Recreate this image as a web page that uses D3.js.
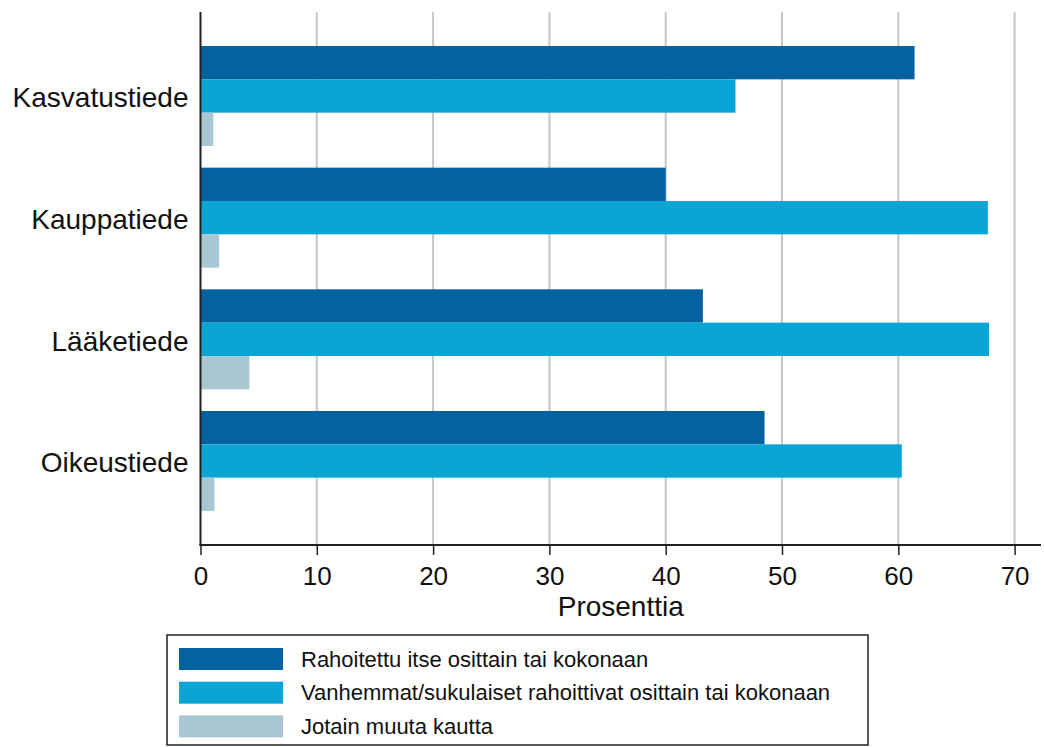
<!DOCTYPE html>
<html>
<head>
<meta charset="utf-8">
<script src="https://cdn.jsdelivr.net/npm/d3@7"></script>
<style>
  html, body { margin: 0; padding: 0; background: #fff; }
  text { font-family: "Liberation Sans", Arial, sans-serif; fill: #111; }
</style>
</head>
<body>
<svg id="chart" width="1044" height="747"></svg>
<script>
const categories = ["Kasvatustiede", "Kauppatiede", "Lääketiede", "Oikeustiede"];
const seriesNames = [
  "Rahoitettu itse osittain tai kokonaan",
  "Vanhemmat/sukulaiset rahoittivat osittain tai kokonaan",
  "Jotain muuta kautta"
];
const selfFunded = [61.4, 40.0, 43.2, 48.5];
const parentsFunded = [46.0, 67.7, 67.8, 60.3];
const otherWay = [1.1, 1.6, 4.2, 1.2];
const xTicks = [0, 10, 20, 30, 40, 50, 60, 70];
const xLabel = "Prosenttia";
const colors = ["#0462a1", "#0aa5d4", "#a7c7d2"];

const seriesValues = [selfFunded, parentsFunded, otherWay];

const svg = d3.select("#chart");
const plotLeft = 200.5, plotRight = 1041, plotTop = 12, plotBottom = 545;

const x = d3.scaleLinear().domain([0, 70]).range([plotLeft, plotLeft + 70 * 11.63]);
const y = d3.scaleBand().domain(categories).range([plotTop, plotBottom])
  .paddingInner(0.178).paddingOuter(0.2795);
const ySub = d3.scaleBand().domain(d3.range(seriesNames.length)).range([0, y.bandwidth()]);

// gridlines
svg.append("g").selectAll("line").data(xTicks.filter(d => d > 0)).join("line")
  .attr("x1", d => x(d)).attr("x2", d => x(d))
  .attr("y1", plotTop).attr("y2", plotBottom)
  .attr("stroke", "#c6c6c6").attr("stroke-width", 2);

// bars
const groups = svg.append("g").selectAll("g").data(categories).join("g")
  .attr("transform", c => `translate(0,${y(c)})`);
groups.selectAll("rect").data((c, i) => seriesValues.map((s, k) => ({k, v: s[i]}))).join("rect")
  .attr("x", x(0))
  .attr("y", d => ySub(d.k))
  .attr("width", d => x(d.v) - x(0))
  .attr("height", ySub.bandwidth())
  .attr("fill", d => colors[d.k]);

// x axis
const xAxis = d3.axisBottom(x).tickValues(xTicks).tickSize(10).tickPadding(12).tickSizeOuter(0);
const gx = svg.append("g").attr("transform", `translate(0,${plotBottom})`).call(xAxis);
gx.select(".domain").remove();
gx.selectAll(".tick line").attr("stroke", "#222").attr("stroke-width", 1.5);
gx.selectAll(".tick text").attr("font-size", 26).attr("font-family", "Liberation Sans, Arial, sans-serif").attr("fill", "#111");
svg.append("line").attr("x1", plotLeft - 1).attr("x2", plotRight).attr("y1", plotBottom).attr("y2", plotBottom)
  .attr("stroke", "#222").attr("stroke-width", 2);

// y axis
const yAxis = d3.axisLeft(y).tickSize(0).tickPadding(12);
const gy = svg.append("g").attr("transform", `translate(${plotLeft},0)`).call(yAxis);
gy.select(".domain").remove();
gy.selectAll(".tick text").attr("font-size", 28).attr("dy", "0.4em")
  .attr("font-family", "Liberation Sans, Arial, sans-serif").attr("fill", "#111");
svg.append("line").attr("x1", plotLeft).attr("x2", plotLeft).attr("y1", plotTop).attr("y2", plotBottom + 1)
  .attr("stroke", "#222").attr("stroke-width", 2);

// x label
svg.append("text").attr("x", (plotLeft + plotRight) / 2).attr("y", 616)
  .attr("text-anchor", "middle").attr("font-size", 28).text(xLabel);

// legend
const lg = svg.append("g");
lg.append("rect").attr("x", 167).attr("y", 635).attr("width", 701).attr("height", 110)
  .attr("fill", "#fff").attr("stroke", "#222").attr("stroke-width", 1.5);
const items = lg.selectAll("g.item").data(seriesNames).join("g").attr("class", "item")
  .attr("transform", (d, i) => `translate(179,${648 + i * 33.7})`);
items.append("rect").attr("width", 104).attr("height", 22).attr("fill", (d, i) => colors[i]);
items.append("text").attr("x", 122).attr("y", 11).attr("dy", "0.35em")
  .attr("font-size", 22).text(d => d);
</script>
</body>
</html>
